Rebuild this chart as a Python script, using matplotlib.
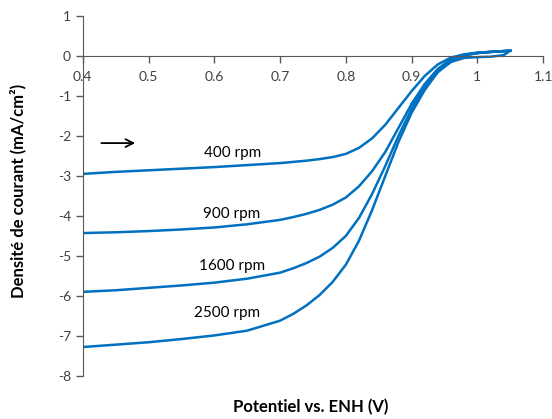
import numpy as np
import matplotlib
matplotlib.use("Agg")
import matplotlib.pyplot as plt

plt.rcParams['font.family'] = ['Lato', 'DejaVu Sans']
plt.rcParams['axes.unicode_minus'] = False

# Potential (V vs. ENH), forward scan
potential = [0.40, 0.45, 0.50, 0.55, 0.60, 0.65, 0.70, 0.72, 0.74, 0.76,
             0.78, 0.80, 0.82, 0.84, 0.86, 0.88, 0.90, 0.92, 0.94, 0.96,
             0.98, 1.00, 1.02, 1.05]

# current density (mA/cm2) for each rotation speed
j_400 = [-2.95, -2.90, -2.86, -2.82, -2.78, -2.73, -2.68, -2.65, -2.62, -2.58,
         -2.53, -2.45, -2.30, -2.06, -1.72, -1.30, -0.88, -0.50, -0.21, -0.04,
         0.04, 0.08, 0.10, 0.13]
j_900 = [-4.43, -4.41, -4.38, -4.34, -4.29, -4.21, -4.10, -4.03, -3.95, -3.85,
         -3.72, -3.54, -3.26, -2.88, -2.40, -1.80, -1.20, -0.70, -0.32, -0.08,
         0.03, 0.08, 0.10, 0.13]
j_1600 = [-5.90, -5.86, -5.80, -5.74, -5.67, -5.57, -5.42, -5.31, -5.18, -5.02,
          -4.80, -4.50, -4.05, -3.45, -2.75, -2.00, -1.32, -0.78, -0.37, -0.10,
          0.02, 0.07, 0.10, 0.13]
j_2500 = [-7.28, -7.22, -7.16, -7.08, -6.99, -6.87, -6.62, -6.45, -6.24, -5.98,
          -5.65, -5.22, -4.62, -3.85, -3.00, -2.15, -1.42, -0.85, -0.40, -0.12,
          0.01, 0.07, 0.10, 0.13]

# short backward scan (hysteresis near the top)
potential_back = [1.05, 1.04, 1.02, 1.00, 0.98, 0.96, 0.94, 0.92, 0.90]
j_back = [0.13, 0.02, -0.02, -0.03, -0.05, -0.15, -0.40, -0.75, -1.20]

labels = ["400 rpm", "900 rpm", "1600 rpm", "2500 rpm"]
label_pos = [(0.628, -2.43), (0.627, -3.95), (0.627, -5.25), (0.619, -6.43)]

blue = '#0070C0'
axis_col = '#595959'
text_col = '#404040'

fig = plt.figure(figsize=(5.52, 4.19), dpi=100)
ax = fig.add_axes([0.150, 0.103, 0.834, 0.859])

for j in [j_400, j_900, j_1600, j_2500]:
    ax.plot(potential, j, color=blue, linewidth=1.8)
ax.plot(potential_back, j_back, color=blue, linewidth=1.8)

for txt, (x, y) in zip(labels, label_pos):
    ax.text(x, y, txt, ha='center', va='center', fontsize=11, color='black')

# scan direction arrow
ax.annotate('', xy=(0.484, -2.18), xytext=(0.424, -2.18),
            arrowprops=dict(arrowstyle='->', color='black', lw=1.3,
                            mutation_scale=14))

ax.set_xlim(0.4, 1.1)
ax.set_ylim(-8, 1)
ax.set_xticks(np.arange(0.4, 1.11, 0.1))
ax.set_xticklabels(['0.4', '0.5', '0.6', '0.7', '0.8', '0.9', '1', '1.1'])
ax.set_yticks(range(-8, 2))

ax.spines['top'].set_visible(False)
ax.spines['right'].set_visible(False)
ax.spines['bottom'].set_position(('data', 0))
ax.spines['bottom'].set_color(axis_col)
ax.spines['left'].set_color(axis_col)
ax.tick_params(axis='both', colors=axis_col, labelcolor=text_col,
               labelsize=10, length=5, width=1)
ax.tick_params(axis='x', pad=6)

fig.text(0.562, 0.028, "Potentiel vs. ENH (V)", ha='center', va='center',
         fontsize=12, fontweight='bold', color='black')
fig.text(0.033, 0.545, "Densité de courant (mA/cm²)", ha='center', va='center',
         rotation=90, fontsize=12, fontweight='bold', color='black')

fig.savefig("out.png", dpi=100)
